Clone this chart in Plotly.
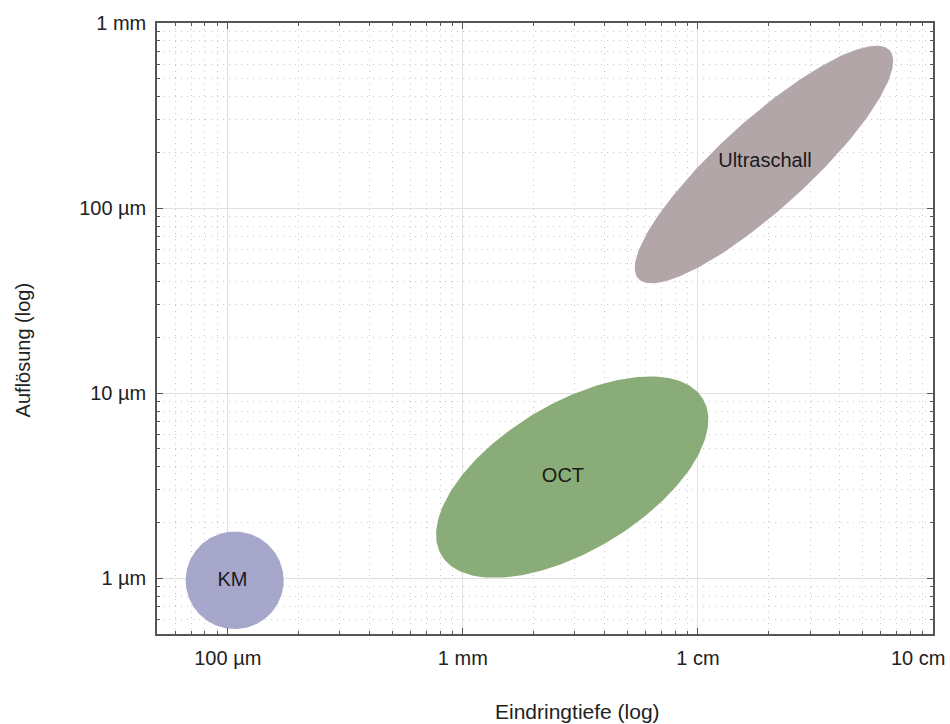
import numpy as np
import plotly.graph_objects as go

# ---- data ----
methods = ["KM", "OCT", "Ultraschall"]
depth_center_um = [107, 2920, 19100]      # Eindringtiefe (centre of region)
res_center_um = [0.975, 3.52, 172]        # Auflösung (centre of region)
semi_major_dec = [0.2085, 0.649, 0.724]   # half extent along main axis (x-decades)
semi_minor_dec = [0.2085, 0.315, 0.190]
tilt_deg = [0.0, 31.1, 42.4]
label_depth_um = [104.7, 2667, 19280]
label_res_um = [0.970, 3.51, 178]
fill_colors = ["rgba(160,160,200,0.92)", "rgba(128,165,108,0.92)", "rgba(172,158,161,0.92)"]

x_tickvals = [100, 1000, 10000, 100000]
x_ticktext = ["100 µm", "1 mm", "1 cm", "10 cm"]
y_tickvals = [1, 10, 100, 1000]
y_ticktext = ["1 µm", "10 µm", "100 µm", "1 mm"]

x_range_um = [50, 100040]
y_range_um = [0.5, 1000.4]

FONT = "Liberation Sans, Arial"

# ---- layout geometry ----
W, H = 950, 724
ML, MR, MT, MB = 157, 17, 20, 90
plot_w = W - ML - MR
plot_h = H - MT - MB
xr = [np.log10(v) for v in x_range_um]
yr = [np.log10(v) for v in y_range_um]
sx = plot_w / (xr[1] - xr[0])   # px per decade
sy = plot_h / (yr[1] - yr[0])

fig = go.Figure()
t = np.linspace(0, 2 * np.pi, 241)
for name, cx, cy, a, b, th, col in zip(methods, depth_center_um, res_center_um,
                                       semi_major_dec, semi_minor_dec, tilt_deg, fill_colors):
    a_px, b_px = a * sx, b * sx
    th_r = np.deg2rad(th)
    dx = a_px * np.cos(t) * np.cos(th_r) - b_px * np.sin(t) * np.sin(th_r)
    dy = a_px * np.cos(t) * np.sin(th_r) + b_px * np.sin(t) * np.cos(th_r)
    xs = 10 ** (np.log10(cx) + dx / sx)
    ys = 10 ** (np.log10(cy) + dy / sy)
    fig.add_trace(go.Scatter(x=xs, y=ys, mode="lines", fill="toself",
                             fillcolor=col, line=dict(width=0),
                             hoverinfo="skip", showlegend=False))

fig.add_trace(go.Scatter(x=label_depth_um, y=label_res_um, mode="text",
                         text=methods,
                         textfont=dict(family=FONT, size=20, color="#1a1a1a"),
                         hoverinfo="skip", showlegend=False))

axis_common = dict(
    type="log",
    showline=True, linecolor="#555555", linewidth=1.5, mirror="allticks",
    ticks="inside", ticklen=6, tickcolor="#555555", tickwidth=1,
    showgrid=True, gridcolor="#e0e0e0", gridwidth=1,
    zeroline=False,
    tickfont=dict(family=FONT, size=20, color="#222222"),
    minor=dict(dtick="D1", ticks="inside", ticklen=3, tickcolor="#555555",
               showgrid=True, gridcolor="#c8c8c8", griddash="1px,5px", gridwidth=1),
)

# last x label sits at the figure edge; it is drawn right-aligned below
x_ticktext_drawn = x_ticktext[:-1] + [""]

fig.update_xaxes(**axis_common, range=xr, tickvals=x_tickvals, ticktext=x_ticktext_drawn,
                 ticklabelstandoff=5)
fig.update_yaxes(**axis_common, range=yr, tickvals=y_tickvals, ticktext=y_ticktext,
                 ticklabelstandoff=5)

fig.add_annotation(text=x_ticktext[-1], xref="paper", yref="paper",
                   x=(947 - ML) / plot_w, y=(H - MB - 658) / plot_h,
                   xanchor="right", yanchor="middle", showarrow=False,
                   font=dict(family=FONT, size=20, color="#222222"))

fig.add_annotation(text="Eindringtiefe (log)", xref="paper", yref="paper",
                   x=(577 - ML) / plot_w, y=(H - MB - 712) / plot_h,
                   xanchor="center", yanchor="middle", showarrow=False,
                   font=dict(family=FONT, size=21, color="#222222"))
fig.add_annotation(text="Auflösung (log)", xref="paper", yref="paper",
                   x=(23 - ML) / plot_w, y=(H - MB - 349) / plot_h,
                   xanchor="center", yanchor="middle", showarrow=False, textangle=-90,
                   font=dict(family=FONT, size=20, color="#222222"))

fig.update_layout(width=W, height=H, margin=dict(l=ML, r=MR, t=MT, b=MB),
                  plot_bgcolor="white", paper_bgcolor="white")

fig.write_html("out.html")
